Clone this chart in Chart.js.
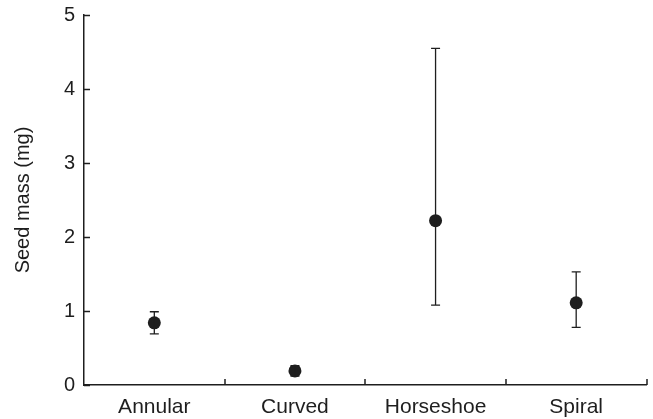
<!DOCTYPE html>
<html>
<head>
<meta charset="utf-8">
<script src="https://cdn.jsdelivr.net/npm/chart.js@4"></script>
<style>
  html, body { margin: 0; padding: 0; background: #fff; }
  #wrap { width: 653px; height: 419px; }
</style>
</head>
<body>
<div id="wrap"><canvas id="c" width="653" height="419"></canvas></div>
<script>
const categories = ['Annular', 'Curved', 'Horseshoe', 'Spiral'];
const seedMass = [0.84, 0.19, 2.22, 1.11];
const errLow = [0.69, 0.12, 1.08, 0.78];
const errHigh = [0.99, 0.26, 4.55, 1.53];
const yTicks = [0, 1, 2, 3, 4, 5];

const INK = '#1e1e1e';

const customAxes = {
  id: 'customAxes',
  afterDatasetsDraw(chart) {
    const ctx = chart.ctx;
    const x = chart.scales.x, y = chart.scales.y;
    const area = chart.chartArea;
    ctx.save();
    ctx.strokeStyle = INK;
    ctx.lineWidth = 1.3;
    // error bars
    categories.forEach((c, i) => {
      const px = x.getPixelForValue(i);
      const pl = y.getPixelForValue(errLow[i]);
      const ph = y.getPixelForValue(errHigh[i]);
      ctx.beginPath();
      ctx.moveTo(px, pl); ctx.lineTo(px, ph);
      ctx.moveTo(px - 4.5, pl); ctx.lineTo(px + 4.5, pl);
      ctx.moveTo(px - 4.5, ph); ctx.lineTo(px + 4.5, ph);
      ctx.stroke();
    });
    ctx.lineWidth = 1.5;
    // inward y ticks
    yTicks.forEach(v => {
      const py = Math.round(y.getPixelForValue(v)) + 0.5;
      ctx.beginPath();
      ctx.moveTo(area.left, py); ctx.lineTo(area.left + 6, py);
      ctx.stroke();
    });
    // inward x ticks at category boundaries
    for (let i = 1; i <= categories.length; i++) {
      const px = Math.round(x.getPixelForValue(i - 0.5));
      ctx.beginPath();
      ctx.moveTo(px, area.bottom); ctx.lineTo(px, area.bottom - 6);
      ctx.stroke();
    }
    ctx.restore();
  }
};

new Chart(document.getElementById('c'), {
  type: 'line',
  data: {
    labels: categories,
    datasets: [{
      data: seedMass,
      showLine: false,
      pointRadius: 6.5,
      pointHoverRadius: 6.5,
      pointBackgroundColor: INK,
      pointBorderColor: INK,
      pointBorderWidth: 0
    }]
  },
  options: {
    responsive: false,
    animation: false,
    events: [],
    layout: { padding: { top: 15, right: 5, left: 0, bottom: 0 } },
    plugins: { legend: { display: false }, tooltip: { enabled: false } },
    scales: {
      x: {
        type: 'category',
        offset: true,
        grid: { display: false, drawTicks: false, offset: true },
        border: { display: true, color: INK, width: 1.5 },
        ticks: { color: INK, padding: 10, font: { family: 'Liberation Sans, Arial, sans-serif', size: 21 }, maxRotation: 0 },
        afterFit(s) { s.height = 34; s.paddingLeft = 0; s.paddingRight = 0; }
      },
      y: {
        min: 0, max: 5,
        afterBuildTicks(s) { s.ticks = yTicks.map(v => ({ value: v })); },
        grid: { display: false, drawTicks: false },
        border: { display: true, color: INK, width: 1.5 },
        ticks: { color: INK, padding: 9, font: { family: 'Liberation Sans, Arial, sans-serif', size: 20 } },
        title: {
          display: true, text: 'Seed mass (mg)', color: INK,
          font: { family: 'Liberation Sans, Arial, sans-serif', size: 20 },
          padding: { top: 11, bottom: 0 }
        },
        afterFit(s) { s.width = 84; s.paddingTop = 0; s.paddingBottom = 0; }
      }
    }
  },
  plugins: [customAxes]
});
</script>
</body>
</html>
